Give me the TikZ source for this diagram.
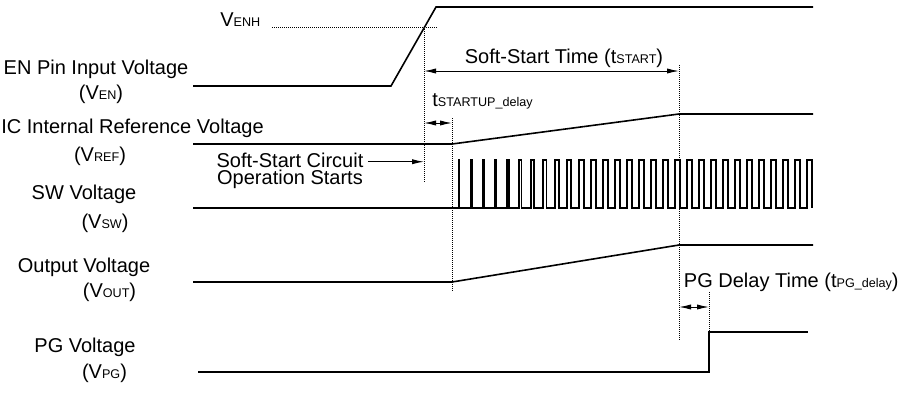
\documentclass[tikz,border=0pt]{standalone}
\usepackage{fontspec}
\setmainfont{Liberation Sans}
\usetikzlibrary{arrows.meta}
% small, slightly lowered index letters (V_EN, t_START, ...)
\newcommand\idx[1]{\raisebox{-0.4pt}{\fontsize{6.3}{7.5}\selectfont #1}}
\begin{document}
\begin{tikzpicture}[x=0.5pt,y=-0.5pt,
  wave/.style={line width=0.8pt, line join=miter},
  guide/.style={line width=0.4pt, dash pattern=on 0.5pt off 0.5pt},
  dimarrow/.style={line width=0.5pt, {Latex[length=6pt,width=2.6pt]}-{Latex[length=6pt,width=2.6pt]}},
  pointer/.style={line width=0.5pt, -{Latex[length=6pt,width=2.6pt]}},
  lbl/.style={font=\fontsize{10}{12}\selectfont, inner sep=0pt, anchor=base},
  lblw/.style={lbl, anchor=base west},
  lble/.style={lbl, anchor=base east},
]
\path[use as bounding box] (0,0) rectangle (901,392);

% ---- signal names -------------------------------------------------
\node[lbl] (nEN)    at (96,74)   {EN Pin Input Voltage};
\node[lbl] (nENs)   at (101,99)  {(V\idx{EN})};
\node[lbl] (nREF)   at (132.5,133) {IC Internal Reference Voltage};
\node[lbl] (nREFs)  at (100,161) {(V\idx{REF})};
\node[lbl] (nSW)    at (84,199)  {SW Voltage};
\node[lbl] (nSWs)   at (105,228) {(V\idx{SW})};
\node[lbl] (nOUT)   at (84,272)  {Output Voltage};
\node[lbl] (nOUTs)  at (109.5,297) {(V\idx{OUT})};
\node[lbl] (nPG)    at (85,352)  {PG Voltage};
\node[lbl] (nPGs)   at (104.5,378) {(V\idx{PG})};

% ---- key time instants --------------------------------------------
\coordinate (venhL) at (272,27);
\coordinate (venhR) at (438,27);
\coordinate (t1top) at (424,27);   % EN crosses V_ENH
\coordinate (t1bot) at (424,183);
\coordinate (t2top) at (452,118);  % soft-start ramp begins
\coordinate (t2bot) at (452,292);
\coordinate (t3top) at (679,65);   % soft-start ends
\coordinate (t3bot) at (679,340);
\coordinate (t4top) at (709,292);  % PG goes high
\coordinate (t4bot) at (709,332);

% ---- waveforms ----------------------------------------------------
% EN
\coordinate (en0) at (193,86);
\coordinate (en1) at (391,86);
\coordinate (en2) at (436,7);
\coordinate (en3) at (813,7);
\draw[wave] (en0) -- (en1) -- (en2) -- (en3);
% V_REF
\coordinate (ref0) at (193,144);
\coordinate (ref1) at (452,144);
\coordinate (ref2) at (679,114);
\coordinate (ref3) at (813,114);
\draw[wave] (ref0) -- (ref1) -- (ref2) -- (ref3);
% SW: pulses with growing duty
\coordinate (sw0) at (193,208);
\draw[wave] (sw0) -- (459,208)
  \foreach \k in {0,...,29}{
    -- ({459+11.99*\k},208) -- ({459+11.99*\k},160)
    -- ({459+11.99*\k+min(0.3+0.45*\k,5.3)},160)
    -- ({459+11.99*\k+min(0.3+0.45*\k,5.3)},208)
  };
% V_OUT
\coordinate (out0) at (193,282);
\coordinate (out1) at (452,282);
\coordinate (out2) at (679,245);
\coordinate (out3) at (813,245);
\draw[wave] (out0) -- (out1) -- (out2) -- (out3);
% PG
\coordinate (pg0) at (198,372);
\coordinate (pg1) at (709,372);
\coordinate (pg2) at (709,332);
\coordinate (pg3) at (808,332);
\draw[wave] (pg0) -- (pg1) -- (pg2) -- (pg3);

% ---- guide lines ----------------------------------------------------
\draw[guide] (venhL) -- (venhR);
\draw[guide] (t1top) -- (t1bot);
\draw[guide] (t2top) -- (t2bot);
\draw[guide] (t3top) -- (t3bot);
\draw[guide] (t4top) -- (t4bot);

% ---- timing annotations --------------------------------------------
\node[lblw] (nVENH) at (220,26) {V\idx{ENH}};

\coordinate (ssL) at (424,71);
\coordinate (ssR) at (679,71);
\draw[dimarrow] (ssL) -- (ssR);
\node[lbl] (nSS) at (564,63) {Soft-Start Time (t\idx{START})};

\coordinate (sdL) at (424,123);
\coordinate (sdR) at (452,123);
\draw[dimarrow] (sdL) -- (sdR);
\node[lblw] (nSD) at (432,106) {t\idx{STARTUP\_delay}};

\coordinate (pdL) at (679,307);
\coordinate (pdR) at (709,307);
\draw[dimarrow] (pdL) -- (pdR);
\node[lble] (nPD) at (899,287) {PG Delay Time (t\idx{PG\_delay})};

\node[lbl] (nCirc) at (290,167) {Soft-Start Circuit};
\node[lbl] (nOper) at (290,184) {Operation Starts};
\coordinate (circTip) at (424,162);
\draw[pointer] ([xshift=2pt]nCirc.mid east) -- (nCirc.mid east -| circTip);
\end{tikzpicture}
\end{document}
